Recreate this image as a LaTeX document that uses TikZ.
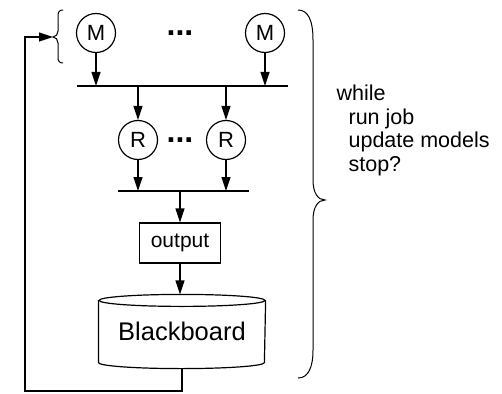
\documentclass[tikz,border=0pt]{standalone}
\usepackage{fontspec}
\setmainfont{Liberation Sans}
\usetikzlibrary{arrows.meta,calc}

\begin{document}
\begin{tikzpicture}[x=1pt,y=-1pt,
  line width=1.2pt,
  flow/.style={-{Triangle[length=14pt,width=9pt]}},
  proc/.style={circle,draw,minimum size=39pt,inner sep=0pt,font=\fontsize{22}{24}\selectfont},
  box/.style={draw,minimum width=81pt,minimum height=40pt,inner sep=0pt,font=\fontsize{21}{23}\selectfont},
  dots/.style={font=\fontsize{32}{32}\selectfont\bfseries,anchor=base,inner sep=0pt},
  bar/.style={line width=1.5pt}
]
\useasboundingbox (0,0) rectangle (502,393);

% map stage
\node[proc] (m1) at (96,33) {M};
\node[proc] (m2) at (265,33) {M};
\node[dots] (mdots) at (180,36) {...};

% reduce stage
\node[proc] (r1) at (138,140) {R};
\node[proc] (r2) at (226,140) {R};
\node[dots] (rdots) at (180,142) {...};

% collector bars
\coordinate (b1w) at (77,86);
\coordinate (b1e) at (288,86);
\coordinate (b2w) at (118,191);
\coordinate (b2e) at (249,191);
\draw[bar] (b1w) -- (b1e);
\draw[bar] (b2w) -- (b2e);

% output and blackboard
\node[box] (out) at (180,243) {output};
\node[minimum width=166pt,minimum height=73pt,inner sep=0pt,
      font=\fontsize{25.5}{27}\selectfont] (bb) at (182,331.5) {Blackboard};
\draw ([yshift=-6pt]bb.north) ellipse [x radius=83pt, y radius=6pt];
\draw ([yshift=-6pt]bb.north west) -- ([yshift=6pt]bb.south west)
      arc[start angle=180,end angle=360,x radius=83pt,y radius=6pt]
      -- ([yshift=-6pt]bb.north east);

% data flow
\draw[flow] (m1.south) -- (m1.south |- b1w);
\draw[flow] (m2.south) -- (m2.south |- b1w);
\draw[flow] (r1.north |- b1w) -- (r1.north);
\draw[flow] (r2.north |- b1w) -- (r2.north);
\draw[flow] (r1.south) -- (r1.south |- b2w);
\draw[flow] (r2.south) -- (r2.south |- b2w);
\draw[flow] (out.north |- b2w) -- (out.north);
\draw[flow] (out.south) -- (out.south |- bb.north);

% small brace grouping the models
\draw[line width=1pt] (63,10) .. controls (59,10) and (58,12) .. (58,17) -- (58,31)
      .. controls (58,34) and (56,37) .. (53,37)
      .. controls (56,37) and (58,40) .. (58,43) -- (58,57)
      .. controls (58,61) and (59,63) .. (63,63);
\coordinate (btip) at (53,37);

% feedback loop
\coordinate (c1) at (182,391);
\coordinate (c2) at (25,391);
\draw[flow] (bb.south) -- (c1) -- (c2) |- (btip);

% big brace and loop description
\draw[line width=1pt] (298,10) .. controls (308,10) and (313,20) .. (313,40) -- (313,180)
      .. controls (313,193) and (318,200) .. (325,200)
      .. controls (318,200) and (313,207) .. (313,220) -- (313,350)
      .. controls (313,368) and (308,378) .. (298,378);
\node[anchor=base west,align=left,inner sep=0pt,font=\fontsize{21.5}{23.5}\selectfont] (loop) at (336,171)
  {while\\\hspace*{12pt}run job\\\hspace*{12pt}update models\\\hspace*{12pt}stop?};
\end{tikzpicture}
\end{document}
